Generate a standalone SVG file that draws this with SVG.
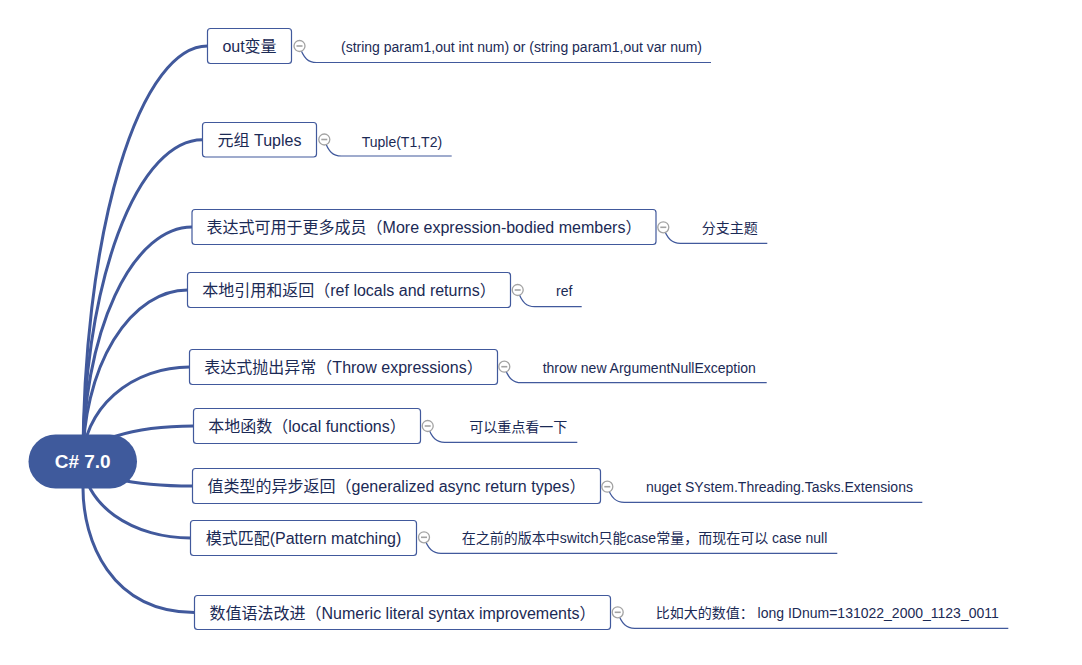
<svg xmlns="http://www.w3.org/2000/svg" width="1082" height="665" viewBox="0 0 1082 665">
<style>
  .conn { fill: none; stroke: #41599c; stroke-width: 3; stroke-linecap: round; }
  .sub { fill: none; stroke: #41599c; stroke-width: 1.2; }
  .box { fill: #ffffff; stroke: #41599c; stroke-width: 1.2; }
  .main { font-family: "Liberation Sans", "Noto Sans CJK SC", sans-serif; font-size: 16px; fill: #1b2a55; text-anchor: middle; }
  .note { font-family: "Liberation Sans", "Noto Sans CJK SC", sans-serif; font-size: 14px; fill: #1b2a55; }
  .tog { fill: #ffffff; stroke: #a3a3a3; stroke-width: 1.3; }
  .togm { stroke: #a3a3a3; stroke-width: 1.6; }
</style>
<rect width="1082" height="665" fill="#ffffff"/>
<g id="connectors">
  <path class="conn" d="M83,461 A124.5,415 0 0 1 207.5,46"/>
  <path class="conn" d="M83,461 A119.5,321.25 0 0 1 202.5,139.75"/>
  <path class="conn" d="M83,461 A109,234 0 0 1 192,227"/>
  <path class="conn" d="M83,461 A104.5,171 0 0 1 187.5,290"/>
  <path class="conn" d="M83,461 A106.5,94 0 0 1 189.5,367"/>
  <path class="conn" d="M83,461 A110.5,35 0 0 1 193.5,426"/>
  <path class="conn" d="M83,461 A109.5,25 0 0 0 192.5,486"/>
  <path class="conn" d="M83,461 A107.5,77 0 0 0 190.5,538"/>
  <path class="conn" d="M83,488 C83,540 110,612 194.5,612.5"/>
  <path class="sub" d="M299.5,46 C303.5,58.5 308.5,62.5 316.5,62.5 H711"/>
  <path class="sub" d="M324.3,139.5 C328.3,152 333.3,156 341.3,156 H451.7"/>
  <path class="sub" d="M663.3,227.3 C667.3,239.3 672.3,243.3 680.3,243.3 H767.3"/>
  <path class="sub" d="M517.7,290 C521.7,302.7 526.7,306.7 534.7,306.7 H581.7"/>
  <path class="sub" d="M504.3,366.7 C508.3,378.7 513.3,382.7 521.3,382.7 H766.7"/>
  <path class="sub" d="M427.7,426 C431.7,438.3 436.7,442.3 444.7,442.3 H577.3"/>
  <path class="sub" d="M607.3,486.7 C611.3,498.3 616.3,502.3 624.3,502.3 H922.3"/>
  <path class="sub" d="M424,537.3 C428,549.3 433,553.3 441,553.3 H837.3"/>
  <path class="sub" d="M617.7,612.3 C621.7,624.3 626.7,628.3 634.7,628.3 H1008.3"/>
</g>
<g id="root">
  <rect x="28.5" y="434.5" width="108.5" height="54" rx="27" fill="#3f5a9c"/>
  <text x="82.7" y="468" font-family="Liberation Sans, sans-serif" font-size="19" font-weight="bold" fill="#ffffff" text-anchor="middle">C# 7.0</text>
</g>
<g id="n1">
  <rect class="box" x="207.5" y="28.5" width="84" height="35" rx="3"/>
  <text class="main" x="249.5" y="52">out变量</text>
  <circle class="tog" cx="299.5" cy="46" r="5.5"/><line class="togm" x1="296.5" y1="46" x2="302.5" y2="46"/>
  <text class="note" x="341" y="52">(string param1,out int num) or (string param1,out var num)</text>
</g>
<g id="n2">
  <rect class="box" x="202.5" y="122.5" width="114" height="34.5" rx="3"/>
  <text class="main" x="259.5" y="145.7">元组 Tuples</text>
  <circle class="tog" cx="324.3" cy="139.5" r="5.5"/><line class="togm" x1="321.3" y1="139.5" x2="327.3" y2="139.5"/>
  <text class="note" x="361.7" y="146.5">Tuple(T1,T2)</text>
</g>
<g id="n3">
  <rect class="box" x="192" y="209.5" width="464" height="35" rx="3"/>
  <text class="main" x="424" y="233">表达式可用于更多成员（More expression-bodied members）</text>
  <circle class="tog" cx="663.3" cy="227.3" r="5.5"/><line class="togm" x1="660.3" y1="227.3" x2="666.3" y2="227.3"/>
  <text class="note" x="701.7" y="233.3">分支主题</text>
</g>
<g id="n4">
  <rect class="box" x="187.5" y="272.5" width="323" height="35" rx="3"/>
  <text class="main" x="349" y="296">本地引用和返回（ref locals and returns）</text>
  <circle class="tog" cx="517.7" cy="290" r="5.5"/><line class="togm" x1="514.7" y1="290" x2="520.7" y2="290"/>
  <text class="note" x="556" y="296">ref</text>
</g>
<g id="n5">
  <rect class="box" x="189.5" y="349.5" width="308" height="35" rx="3"/>
  <text class="main" x="343.5" y="373">表达式抛出异常（Throw expressions）</text>
  <circle class="tog" cx="504.3" cy="366.7" r="5.5"/><line class="togm" x1="501.3" y1="366.7" x2="507.3" y2="366.7"/>
  <text class="note" x="542.7" y="373.3">throw new ArgumentNullException</text>
</g>
<g id="n6">
  <rect class="box" x="193.5" y="408.5" width="227" height="35" rx="3"/>
  <text class="main" x="307" y="432">本地函数（local functions）</text>
  <circle class="tog" cx="427.7" cy="426" r="5.5"/><line class="togm" x1="424.7" y1="426" x2="430.7" y2="426"/>
  <text class="note" x="469.3" y="431.7">可以重点看一下</text>
</g>
<g id="n7">
  <rect class="box" x="192.5" y="468.5" width="408" height="35" rx="3"/>
  <text class="main" x="396.5" y="492">值类型的异步返回（generalized async return types）</text>
  <circle class="tog" cx="607.3" cy="486.7" r="5.5"/><line class="togm" x1="604.3" y1="486.7" x2="610.3" y2="486.7"/>
  <text class="note" x="646" y="491.7">nuget SYstem.Threading.Tasks.Extensions</text>
</g>
<g id="n8">
  <rect class="box" x="190.5" y="520.5" width="226" height="35" rx="3"/>
  <text class="main" x="303.5" y="544">模式匹配(Pattern matching)</text>
  <circle class="tog" cx="424" cy="537.3" r="5.5"/><line class="togm" x1="421" y1="537.3" x2="427" y2="537.3"/>
  <text class="note" x="461.7" y="543.3">在之前的版本中switch只能case常量，而现在可以 case null</text>
</g>
<g id="n9">
  <rect class="box" x="194.5" y="595.5" width="416" height="34" rx="3"/>
  <text class="main" x="402.5" y="618.5">数值语法改进（Numeric literal syntax improvements）</text>
  <circle class="tog" cx="617.7" cy="612.3" r="5.5"/><line class="togm" x1="614.7" y1="612.3" x2="620.7" y2="612.3"/>
  <text class="note" x="655.7" y="618.3">比如大的数值： long IDnum=131022_2000_1123_0011</text>
</g>
</svg>
